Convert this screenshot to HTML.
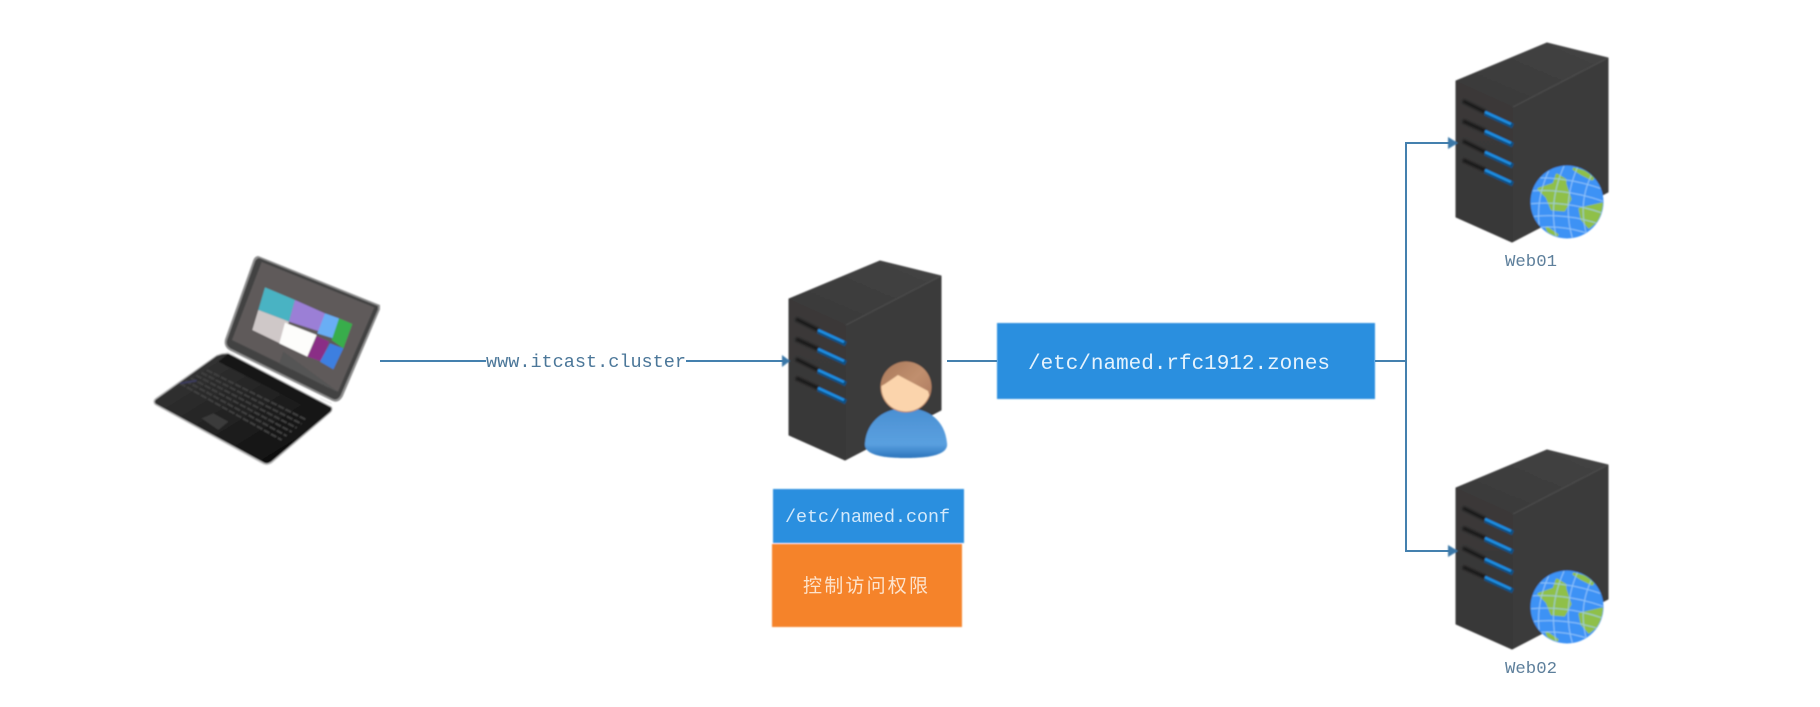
<!DOCTYPE html>
<html>
<head>
<meta charset="utf-8">
<style>
html,body{margin:0;padding:0;background:#fff;}
svg{display:block;}
text{white-space:pre;}
</style>
</head>
<body>
<svg xmlns="http://www.w3.org/2000/svg" width="1820" height="707" viewBox="0 0 1820 707">
<defs>
<filter id="b" x="-5%" y="-5%" width="110%" height="110%"><feGaussianBlur stdDeviation="0.7"/></filter>
<filter id="s" x="-20%" y="-20%" width="140%" height="140%"><feGaussianBlur stdDeviation="1.1"/></filter>
<filter id="t" x="-5%" y="-20%" width="110%" height="140%"><feGaussianBlur stdDeviation="0.35"/></filter>
<linearGradient id="front" x1="0" y1="0" x2="0" y2="1"><stop offset="0" stop-color="#3a3838"/><stop offset="1" stop-color="#383838"/></linearGradient>
<linearGradient id="topf" x1="0" y1="1" x2="1" y2="0"><stop offset="0" stop-color="#373737"/><stop offset="1" stop-color="#444"/></linearGradient>
<linearGradient id="body" x1="0" y1="0" x2="0" y2="1"><stop offset="0" stop-color="#4a8fd2"/><stop offset="0.72" stop-color="#5aa0e0"/><stop offset="1" stop-color="#2b74bc"/></linearGradient>
<linearGradient id="hair" x1="0" y1="0" x2="1" y2="1"><stop offset="0" stop-color="#a9785a"/><stop offset="0.5" stop-color="#c08f6e"/><stop offset="1" stop-color="#a9745a"/></linearGradient>
<linearGradient id="base" x1="0" y1="0" x2="1" y2="1"><stop offset="0" stop-color="#3a3a3a"/><stop offset="0.55" stop-color="#1f1f1f"/><stop offset="1" stop-color="#050505"/></linearGradient>
<clipPath id="gc"><circle cx="0" cy="0" r="36"/></clipPath>
<clipPath id="hc"><circle cx="906" cy="387" r="24.5"/></clipPath>
<g id="server">
  <path d="M0 0L91-38L152-23L152 111L56 161L0 136Z" fill="#3a3a3a" stroke="#3a3a3a" stroke-width="1" stroke-linejoin="round"/>
  <path d="M0 0L91-38L152-23L57 26Z" fill="url(#topf)"/>
  <path d="M0 0L57 26L57 161L0 136Z" fill="url(#front)"/>
  <path d="M57 26L152-23" stroke="#4a4a4a" stroke-width="1.5" fill="none"/>
  <g fill="none" stroke="#171717" stroke-width="3.5" filter="url(#s)">
    <path d="M7 20L29 31"/><path d="M7 40L29 50"/><path d="M7 60L29 71"/><path d="M7 79L29 89"/>
  </g>
  <g fill="none" stroke="#0d4f82" stroke-width="5">
    <path d="M29 32L57 45"/><path d="M29 51L57 64"/><path d="M29 72L57 85"/><path d="M29 90L57 103"/>
  </g>
  <g fill="none" stroke="#1f8ee2" stroke-width="2.6">
    <path d="M29 31L55 43"/><path d="M29 50L55 62"/><path d="M29 71L55 83"/><path d="M29 89L55 101"/>
  </g>
</g>
<g id="globe">
  <circle r="36.5" fill="#3e92f5"/>
  <g clip-path="url(#gc)">
    <g fill="#8fc048" stroke="#8fc048" stroke-width="3" stroke-linejoin="round">
      <path d="M-28-13L-13-18L-10-27L-2-22L-2-18L3-3L-3 8L-15 7L-20-5Z"/>
      <path d="M7-33L28-27L25-23L15-28Z"/>
      <path d="M13 7L35 2L32 17L22 25L15 17Z"/>
      <path d="M-20 26L-10 33L-17 32Z"/>
    </g>
    <g fill="none" stroke="#a6d2fb" stroke-width="1" opacity=".8">
      <path d="M-38-24Q0-26 38-12"/><path d="M-38-11Q0-14 38 0"/><path d="M-38 2Q0-2 38 12"/><path d="M-38 15Q0 10 38 24"/><path d="M-34 26Q0 22 30 35"/>
      <path d="M-16-36Q-34 0-26 34"/><path d="M-2-38Q-20 0-10 38"/><path d="M12-38Q-6 0 6 38"/><path d="M26-30Q10 0 20 34"/>
    </g>
  </g>
</g>
</defs>

<!-- connectors -->
<g fill="none" stroke="#4480ae" stroke-width="2">
  <path d="M380 361H486"/>
  <path d="M686 361H784"/>
  <path d="M947 361H997"/>
  <path d="M1375 361H1406"/>
  <path d="M1450 143H1406V551H1450"/>
</g>

<g filter="url(#b)">
  <!-- laptop base -->
  <g transform="translate(150 350) scale(.33333)">
    <path d="M215 10L235 8L545 170Q552 180 540 190L365 340Q350 350 335 340L15 165Q5 155 15 145L200 15Z" fill="#bdbdbd"/>
    <path d="M215 13L235 11L543 172Q548 180 538 188L364 335Q350 345 336 335L18 162Q10 155 18 148L200 18Z" fill="url(#base)"/>
    <path d="M235 11L543 172L515 195L205 35Z" fill="#131313"/>
    <g fill="none" stroke="#3f3f3f" stroke-width="6" stroke-dasharray="19 5">
      <path d="M90 100L395 270"/><path d="M106 92L410 258"/><path d="M122 84L425 246"/><path d="M138 76L440 234"/><path d="M154 68L455 222"/><path d="M170 60L470 210"/>
    </g>
    <path d="M90 100L140 92" stroke="#3b3b5c" stroke-width="6" fill="none"/>
    <path d="M155 205L190 190L235 215L205 240Z" fill="#3b3b3b"/>
  </g>
  <!-- laptop lid -->
  <g transform="translate(220 250) scale(.33333)">
    <path d="M115 18L480 165L480 178L368 440Q355 462 335 452L30 302Q10 290 15 268L100 30Q105 18 115 18Z" fill="#8f8f8f"/>
    <path d="M118 24L474 168L474 178L362 436Q352 454 336 446L32 296Q16 286 21 270L105 34Q110 24 118 24Z" fill="#434343"/>
    <path d="M125 36L463 172L354 425L36 270Z" fill="#5e5a5a"/>
    <path d="M190 305L354 425L340 420L178 340Z" fill="#555"/>
    <path d="M135 112L225 150L207 215L115 180Z" fill="#4ab3c3"/>
    <path d="M225 150L315 190L300 245L207 215Z" fill="#9b7fd6"/>
    <path d="M315 190L357 205L340 265L292 250Z" fill="#69aef5"/>
    <path d="M357 205L397 222L370 295L335 270Z" fill="#37ad4c"/>
    <path d="M115 180L207 215L180 280L97 240Z" fill="#cfc8c8"/>
    <path d="M195 218L290 255L262 320L178 280Z" fill="#fdfdfb"/>
    <path d="M290 258L328 275L305 335L262 320Z" fill="#8a2d86"/>
    <path d="M330 280L370 295L340 358L300 335Z" fill="#3d7fe0"/>
    <path d="M20 305L45 315" stroke="#eee" stroke-width="5"/>
    <path d="M300 445L335 460" stroke="#eee" stroke-width="5"/>
  </g>

  <!-- middle server -->
  <use href="#server" x="789" y="299"/>
  <!-- person -->
  <path d="M865 443C867 420 885 408 906 408C928 408 945 420 947 443C949 456 925 458 906 458C887 458 863 456 865 443Z" fill="url(#body)"/>
  <ellipse cx="906" cy="387" rx="25.5" ry="25.5" fill="url(#hair)"/>
  <path clip-path="url(#hc)" d="M878 388L885 384L898 375L928 391L935 415L878 415Z" fill="#fbd4ac"/>

  <!-- right servers -->
  <use href="#server" x="1456" y="81"/>
  <use href="#globe" x="1567" y="202"/>
  <use href="#server" x="1456" y="488"/>
  <use href="#globe" x="1567" y="607"/>

  <!-- arrowheads -->
  <g fill="#3a78a8">
    <path d="M782 355L790 361L782 367Z"/>
    <path d="M1448 137L1458 143L1448 149Z"/>
    <path d="M1448 545L1458 551L1448 557Z"/>
  </g>

  <!-- boxes -->
  <rect x="997" y="323" width="378" height="76" fill="#2b8fdf"/>
  <rect x="773" y="489" width="191" height="54" fill="#2b8fdf"/>
  <rect x="772" y="544" width="190" height="83" fill="#f5832a"/>
</g>

<g filter="url(#t)">
  <text x="486" y="367" font-family="'Liberation Mono',monospace" font-size="18" fill="#4c7799" textLength="200" lengthAdjust="spacingAndGlyphs">www.itcast.cluster</text>
  <text x="1028" y="369" font-family="'Liberation Mono',monospace" font-size="21" fill="#e6f3fd" textLength="302" lengthAdjust="spacingAndGlyphs">/etc/named.rfc1912.zones</text>
  <text x="785" y="522" font-family="'Liberation Mono',monospace" font-size="18" fill="#d3e9fb" textLength="165" lengthAdjust="spacingAndGlyphs">/etc/named.conf</text>
  <text x="803" y="592" font-family="'Liberation Sans','Noto Sans CJK SC',sans-serif" font-size="19" fill="#fde3cc" textLength="125">控制访问权限</text>
  <text x="1505" y="266" font-family="'Liberation Mono',monospace" font-size="17" fill="#5d7f9b" textLength="52" lengthAdjust="spacingAndGlyphs">Web01</text>
  <text x="1505" y="673" font-family="'Liberation Mono',monospace" font-size="17" fill="#5d7f9b" textLength="52" lengthAdjust="spacingAndGlyphs">Web02</text>
</g>
</svg>
</body>
</html>
